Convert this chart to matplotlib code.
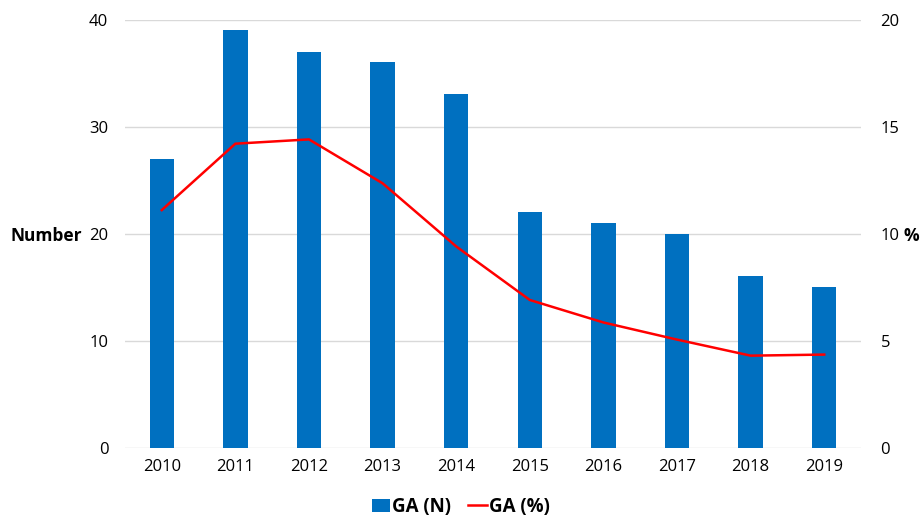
import matplotlib.pyplot as plt
import numpy as np

plt.rcParams['font.family'] = ['Open Sans', 'DejaVu Sans']

years = ['2010', '2011', '2012', '2013', '2014', '2015', '2016', '2017', '2018', '2019']
ga_n = [27, 39, 37, 36, 33, 22, 21, 20, 16, 15]
ga_pct = [11.1, 14.2, 14.4, 12.35, 9.4, 6.9, 5.85, 5.05, 4.3, 4.35]

fig = plt.figure(figsize=(9.21, 5.2), dpi=100)
ax = fig.add_axes([0.1357, 0.139, 0.7992, 0.8235])
ax2 = ax.twinx()

x = np.arange(len(years))
ax.bar(x, ga_n, width=0.33, color='#0070C0', label='GA (N)', zorder=2)
ax2.plot(x, ga_pct, color='#FF0000', lw=1.8, label='GA (%)')

ax.set_xlim(-0.5, 9.5)
ax.set_ylim(0, 40)
ax2.set_ylim(0, 20)
ax.set_yticks([0, 10, 20, 30, 40])
ax2.set_yticks([0, 5, 10, 15, 20])
ax.set_xticks(x)
ax.set_xticklabels(years)

ax.grid(axis='y', color='#D9D9D9', lw=1, zorder=0)
ax.set_axisbelow(True)
for a in (ax, ax2):
    for s in a.spines.values():
        s.set_visible(False)
    a.tick_params(length=0, labelsize=12, colors='#000000')
ax.tick_params(axis='y', pad=12)
ax.tick_params(axis='x', pad=8)
ax2.tick_params(axis='y', pad=14)

fig.text(10 / 921, 1 - 236 / 520, 'Number', fontsize=12.5, fontweight='bold', va='center', ha='left')
fig.text(911 / 921, 1 - 236 / 520, '%', fontsize=12.5, fontweight='bold', va='center', ha='center')

h1, l1 = ax.get_legend_handles_labels()
h2, l2 = ax2.get_legend_handles_labels()
fig.legend(h1 + h2, l1 + l2, loc='center', bbox_to_anchor=(0.5, 1 - 507 / 520), ncol=2,
           frameon=False, prop={'weight': 'bold', 'size': 13.5}, handlelength=1.0,
           handletextpad=0.1, columnspacing=0.9, borderpad=0)

fig.savefig('out.png', dpi=100)
